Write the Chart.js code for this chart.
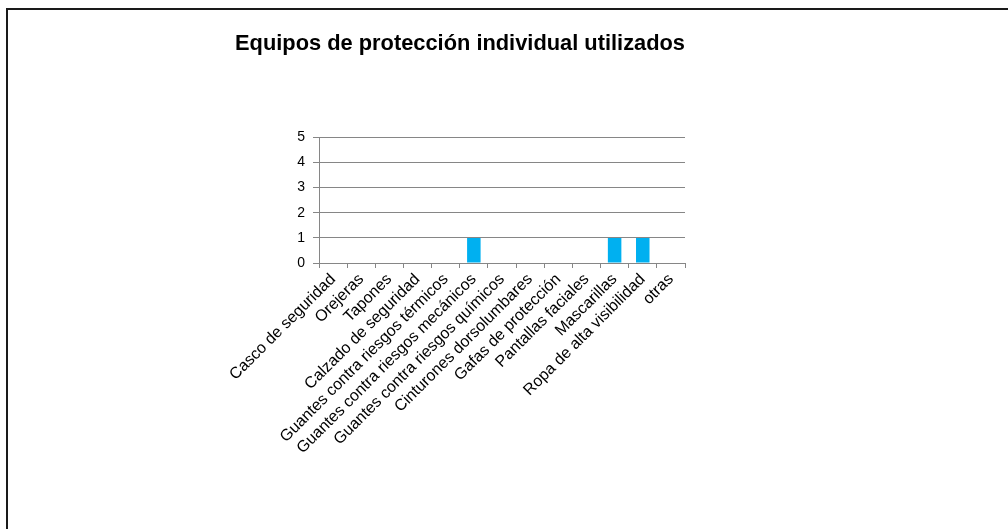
<!DOCTYPE html>
<html>
<head>
<meta charset="utf-8">
<script src="https://cdn.jsdelivr.net/npm/chart.js@4"></script>
<style>
  html, body { margin: 0; padding: 0; background: #fff; overflow: hidden; }
  #caja { position: relative; width: 1008px; height: 529px; }
  #marco { position: absolute; left: 6px; top: 8px; width: 1100px; height: 600px;
           border-left: 2px solid #1a1a1a; border-top: 2px solid #1a1a1a; pointer-events: none; }
</style>
</head>
<body>
<div id="caja">
  <canvas id="grafico" width="1008" height="529"></canvas>
  <div id="marco"></div>
</div>
<script>
const categorias = [
  "Casco de seguridad", "Orejeras", "Tapones", "Calzado de seguridad",
  "Guantes contra riesgos térmicos", "Guantes contra riesgos mecánicos",
  "Guantes contra riesgos químicos", "Cinturones dorsolumbares",
  "Gafas de protección", "Pantallas faciales", "Mascarillas",
  "Ropa de alta visibilidad", "otras"
]
const valores = [0, 0, 0, 0, 0, 1, 0, 0, 0, 0, 1, 1, 0]
const ticksY = [0, 1, 2, 3, 4, 5]

const gris = "#868686"

new Chart(document.getElementById("grafico"), {
    type: "bar",
    data: {
        labels: categorias,
        datasets: [{
            data: valores,
            backgroundColor: "#00b0f0",
            barPercentage: 0.48,
            categoryPercentage: 1
        }]
    },
    options: {
        responsive: false,
        animation: false,
        layout: { padding: { left: 235, right: 323, top: 0, bottom: 0 } },
        plugins: {
            legend: { display: false },
            tooltip: { enabled: false },
            title: {
                display: true,
                text: "Equipos de protección individual utilizados",
                color: "#000",
                font: { family: "Arial, 'Liberation Sans'", size: 22, weight: "bold" },
                padding: { top: 31, bottom: 80 }
            }
        },
        scales: {
            y: {
                min: 0,
                max: 5,
                afterBuildTicks: (eje) => { eje.ticks = ticksY.map(v => ({ value: v })) },
                afterFit: (eje) => { eje.width = 84 },
                grid: { color: gris, lineWidth: 1, tickLength: 6 },
                border: { color: gris, width: 1 },
                ticks: {
                    color: "#000",
                    padding: 8,
                    font: { family: "Arial, 'Liberation Sans'", size: 14 }
                }
            },
            x: {
                afterFit: (eje) => { eje.height = 266 },
                grid: { drawOnChartArea: false, color: gris, tickLength: 5, offset: true },
                border: { color: gris, width: 1 },
                ticks: {
                    color: "#000",
                    minRotation: 45,
                    maxRotation: 45,
                    autoSkip: false,
                    padding: 2,
                    font: { family: "Arial, 'Liberation Sans'", size: 16 }
                }
            }
        }
    }
})
</script>
</body>
</html>
